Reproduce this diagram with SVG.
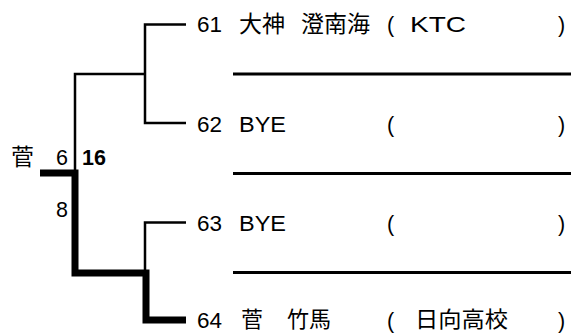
<svg xmlns="http://www.w3.org/2000/svg" width="571" height="334" viewBox="0 0 571 334">
<style>
.lat{font-family:"Liberation Sans",Arial,sans-serif;font-size:21.5px;fill:#000}
.cjk{font-family:"Noto Sans CJK JP","Liberation Sans",sans-serif;font-size:23px;fill:#000}
.cjk2{font-family:"Noto Sans CJK JP","Liberation Sans",sans-serif;font-size:22px;fill:#000}
.b{font-weight:bold}
.thin{fill:none;stroke:#000;stroke-width:2.5}
.thick{fill:none;stroke:#000;stroke-width:7}
.sep{stroke:#000;stroke-width:3}
</style>
<rect width="571" height="334" fill="#fff"/>
<g id="connectors">
<path class="thin" d="M186,24.5 H145 V123 H186"/>
<path class="thin" d="M75,172 V74 H145"/>
<path class="thin" d="M186,222.5 H145 V272"/>
<path class="thick" d="M40,173 H75 V273 H146 V320 H186"/>
</g>
<g id="separators">
<line class="sep" x1="233" y1="74" x2="571" y2="74"/>
<line class="sep" x1="233" y1="173.5" x2="571" y2="173.5"/>
<line class="sep" x1="233" y1="272.5" x2="571" y2="272.5"/>
</g>
<g id="winner">
<text class="cjk" x="11" y="165">菅</text>
<text class="lat" x="56" y="165">6</text>
<text class="lat b" x="82" y="165">16</text>
<text class="lat" x="56" y="217">8</text>
</g>
<g id="entry61">
<text class="lat" x="197" y="32" textLength="25" lengthAdjust="spacingAndGlyphs">61</text>
<text class="cjk" x="239" y="32">大神</text>
<text class="cjk" x="301" y="32">澄南海</text>
<text class="lat" x="387" y="32">(</text>
<text class="lat" x="410" y="32" textLength="56" lengthAdjust="spacingAndGlyphs">KTC</text>
<text class="lat" x="558" y="32">)</text>
</g>
<g id="entry62">
<text class="lat" x="197" y="131.5" textLength="25" lengthAdjust="spacingAndGlyphs">62</text>
<text class="lat" x="239" y="131.5" textLength="47" lengthAdjust="spacingAndGlyphs">BYE</text>
<text class="lat" x="387" y="131.5">(</text>
<text class="lat" x="558" y="131.5">)</text>
</g>
<g id="entry63">
<text class="lat" x="197" y="231" textLength="25" lengthAdjust="spacingAndGlyphs">63</text>
<text class="lat" x="239" y="231" textLength="47" lengthAdjust="spacingAndGlyphs">BYE</text>
<text class="lat" x="387" y="231">(</text>
<text class="lat" x="558" y="231">)</text>
</g>
<g id="entry64">
<text class="lat" x="197" y="328" textLength="25" lengthAdjust="spacingAndGlyphs">64</text>
<text class="cjk2" x="241" y="327">菅</text>
<text class="cjk2" x="287" y="327">竹馬</text>
<text class="lat" x="387" y="328">(</text>
<text class="cjk2" x="415" y="327" textLength="93" lengthAdjust="spacingAndGlyphs">日向高校</text>
<text class="lat" x="558" y="328">)</text>
</g>
</svg>
